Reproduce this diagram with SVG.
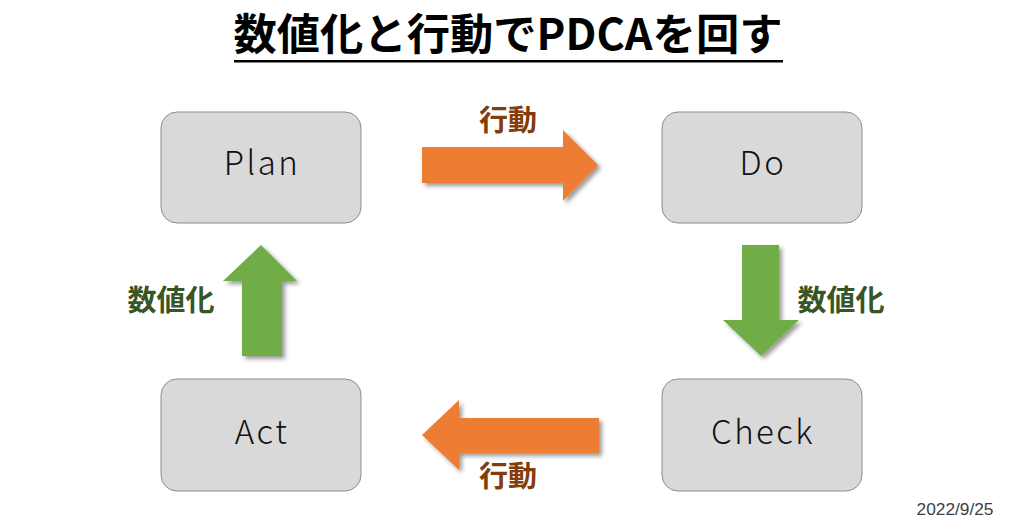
<svg xmlns="http://www.w3.org/2000/svg" width="1021" height="529" viewBox="0 0 1021 529">
<defs>
<filter id="sh" x="-20%" y="-20%" width="150%" height="150%">
<feDropShadow dx="3" dy="3" stdDeviation="2" flood-color="#000" flood-opacity="0.4"/>
</filter>
<style>
.box{fill:#d9d9d9;stroke:#8c8c8c;stroke-width:1}
.bt{font-family:"Noto Sans CJK JP","Noto Sans",sans-serif;font-size:33px;fill:#111;text-anchor:middle;font-weight:300;letter-spacing:2.5px}
.org{fill:#ed7d31;filter:url(#sh)}
.grn{fill:#70ad47;filter:url(#sh)}
.lo{font-family:"Noto Sans CJK JP",sans-serif;font-size:29px;font-weight:bold;fill:#843c0c;text-anchor:middle}
.lg{font-family:"Noto Sans CJK JP",sans-serif;font-size:29px;font-weight:bold;fill:#375623;text-anchor:middle}
</style>
</defs>
<rect width="1021" height="529" fill="#fff"/>
<text x="508" y="50" font-family="'Noto Sans CJK JP',sans-serif" font-size="43" font-weight="bold" fill="#000" text-anchor="middle" textLength="549" lengthAdjust="spacingAndGlyphs">数値化と行動でPDCAを回す</text>
<rect x="234" y="60" width="549" height="2.5" fill="#000"/>
<g id="plan"><rect class="box" x="161" y="112" width="200" height="111" rx="16"/><text class="bt" x="262" y="175">Plan</text></g>
<g id="do"><rect class="box" x="662" y="112" width="200" height="111" rx="16"/><text class="bt" x="763" y="175">Do</text></g>
<g id="check"><rect class="box" x="662" y="379" width="200" height="112" rx="16"/><text class="bt" x="763" y="444">Check</text></g>
<g id="act"><rect class="box" x="161" y="379" width="200" height="112" rx="16"/><text class="bt" x="262" y="444">Act</text></g>
<g id="connectors">
<polygon class="org" points="422,147 563,147 563,130 598,165 563,201 563,183 422,183"/>
<polygon class="grn" points="742,245 779,245 779,320 799,320 761,356 723,320 742,320"/>
<polygon class="org" points="599,418 459,418 459,400 422,435 459,470 459,453 599,453"/>
<polygon class="grn" points="242,356 282,356 282,281 297,281 261,245 223,281 242,281"/>
<text class="lo" x="508" y="131">行動</text>
<text class="lg" x="841" y="311">数値化</text>
<text class="lo" x="508" y="487">行動</text>
<text class="lg" x="171" y="311">数値化</text>
</g>
<text x="955" y="515" font-family="'Liberation Sans',sans-serif" font-size="16" fill="#404040" text-anchor="middle" textLength="77" lengthAdjust="spacingAndGlyphs">2022/9/25</text>
</svg>
